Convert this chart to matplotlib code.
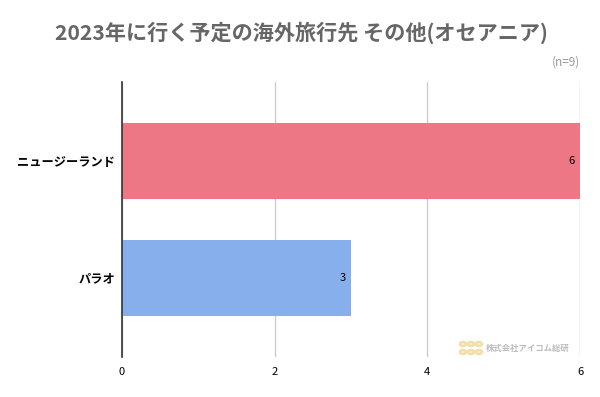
import matplotlib.pyplot as plt
from matplotlib.patches import Circle
import numpy as np

plt.rcParams['font.family'] = ['Noto Sans CJK JP', 'DejaVu Sans']

countries = ['ニュージーランド', 'パラオ']
counts = [6, 3]
bar_colors = ['#EE7785', '#86AFEB']
xticks = [0, 2, 4, 6]
title = '2023年に行く予定の海外旅行先 その他(オセアニア)'
n_label = '(n=9)'

fig = plt.figure(figsize=(6, 3.97), dpi=100)
ax = fig.add_axes([122/600, 1-357/397, (580-122)/600, (357-82)/397])

y = np.arange(len(countries))
bars = ax.barh(y, counts, height=0.65, color=bar_colors, zorder=2)
ax.set_ylim(len(countries) - 1 + 0.68, -0.68)
ax.set_xlim(0, 6)
ax.set_yticks(y)
ax.set_yticklabels(countries, fontsize=8.8, fontweight='bold')
ax.set_xticks(xticks)
ax.set_xticklabels([str(t) for t in xticks], fontsize=8)
ax.tick_params(axis='y', length=0, pad=5)
ax.tick_params(axis='x', length=0, pad=7)
ax.grid(axis='x', color='#cccccc', linewidth=1, zorder=0)
for s in ['top', 'right', 'bottom']:
    ax.spines[s].set_visible(False)
ax.spines['left'].set_color('#333333')
ax.spines['left'].set_linewidth(1.2)
ax.spines['left'].set_zorder(3)

for b, v in zip(bars, counts):
    ax.text(v - 0.07, b.get_y() + b.get_height()/2, str(v), ha='right', va='center',
            fontsize=8, color='#000000', zorder=4)

fig.text(301/600, 1-33/397, title, ha='center', va='center', fontsize=15.2,
         fontweight='bold', color='#666666')
fig.text(580/600, 1-62/397, n_label, ha='right', va='center', fontsize=8.5, color='#999999')

# watermark
for i in range(3):
    for j in range(2):
        fig.patches.append(Circle(((463 + i*8)/600, 1-(344 + j*8)/397), 3.0/600,
                                  transform=fig.transFigure, facecolor='#FBF3DA',
                                  edgecolor='#F1DFA6', linewidth=1.8))
fig.text(486/600, 1-348/397, '株式会社アイコム総研', ha='left', va='center',
         fontsize=6, color='#BBBBBB', fontweight='bold')

fig.savefig('out.png', dpi=100)
